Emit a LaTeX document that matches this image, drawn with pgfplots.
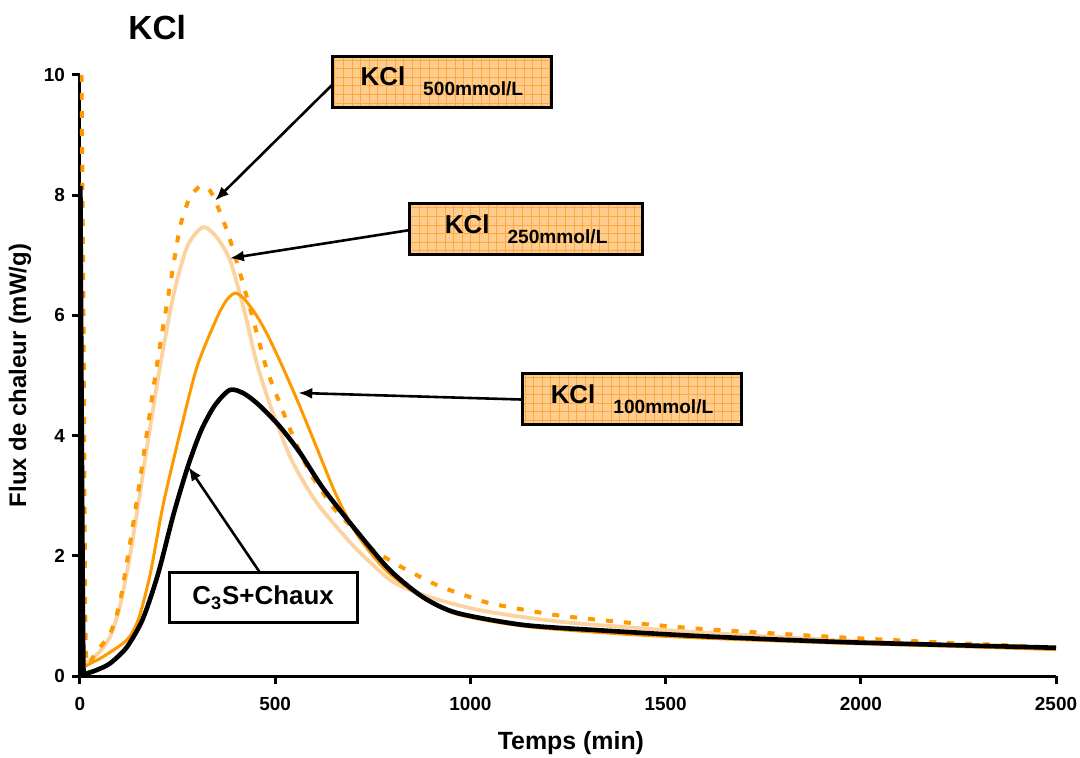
\documentclass[border=0pt]{standalone}
\usepackage{pgfplots}
\pgfplotsset{compat=1.18}
\usepackage{fontspec}
\setmainfont{Liberation Sans}
\usetikzlibrary{arrows.meta}
\definecolor{korange}{RGB}{255,153,0}
\definecolor{klight}{RGB}{251,210,160}
\definecolor{boxfill}{RGB}{255,204,140}
\definecolor{boxgrid}{RGB}{250,170,70}
\begin{document}
\begin{tikzpicture}[
  kbox/.style={draw=black, line width=1.5bp, fill=boxfill, inner sep=0pt,
    minimum height=25.5bp, font=\bfseries,
    path picture={\draw[boxgrid, line width=0.35bp, step=4.3bp] (path picture bounding box.south west) grid (path picture bounding box.north east);}},
  karrow/.style={line width=1.3bp, -{Latex[length=7bp,width=5.5bp]}}
]
\begin{axis}[
  name=ax,
  scale only axis,
  clip mode=individual,
  width=488bp, height=300.5bp,
  xmin=0, xmax=2500, ymin=0, ymax=10,
  axis x line*=bottom, axis y line*=left,
  axis line style={line width=1.5bp},
  xtick={0,500,...,2500}, ytick={0,2,...,10},
  tick align=outside, major tick length=4bp,
  major tick style={line width=1.5bp, black},
  /pgf/number format/assume math mode=true,
  /pgf/number format/1000 sep={},
  ticklabel style={font=\bfseries\fontsize{9.5}{11}\selectfont},
  xticklabel style={yshift=-3bp},
  xlabel={Temps (min)}, ylabel={Flux de chaleur (mW/g)},
  xlabel style={font=\bfseries\fontsize{12.5}{14}\selectfont, at={(axis description cs:0.503,-0.1115)}, anchor=center},
  ylabel style={font=\bfseries\fontsize{12}{14}\selectfont, at={(axis description cs:-0.0615,0.5)}, anchor=center},
]
% KCl 250 mmol/L (light hatched)
\addplot[klight, line width=1.9bp, smooth, tension=0.45] coordinates {
(12,0.2) (26,0.27) (50,0.4) (77,0.65) (102,1.15) (128,2.0) (150,2.9) (175,3.95) (205,5.15) (240,6.35) (275,7.15) (315,7.47) (350,7.3) (384,6.92) (420,6.1) (453,5.2) (490,4.45) (538,3.65) (580,3.15) (622,2.75) (710,2.1) (794,1.6) (850,1.42) (922,1.26) (1020,1.1) (1135,0.98) (1250,0.89) (1383,0.82) (1600,0.72) (1929,0.6) (2200,0.52) (2500,0.45)
};
% KCl 500 mmol/L (dashed)
\addplot[korange, line width=2bp, dash pattern=on 3.5bp off 5.5bp, smooth, tension=0.3] coordinates {
(3,10.6) (9,6) (15,0.4) (40,0.4) (77,0.7) (102,1.21) (128,2.2) (146,2.93) (175,4.2) (200,5.3) (233,6.59) (256,7.47) (280,7.95) (307,8.15) (330,8.1) (346,7.92) (380,7.35) (410,6.7) (445,5.9) (479,5.09) (546,3.98) (589,3.38) (648,2.81) (700,2.45) (750,2.1) (827,1.8) (922,1.49) (1050,1.21) (1222,1.01) (1383,0.9) (1600,0.78) (1929,0.65) (2200,0.56) (2413,0.5) (2500,0.47)
};
% KCl 100 mmol/L (solid orange)
\addplot[korange, line width=1.5bp, smooth, tension=0.45] coordinates {
(12,0.15) (18,0.18) (59,0.32) (120,0.6) (150,0.95) (180,1.7) (213,2.85) (256,4.04) (300,5.15) (350,5.95) (375,6.25) (397,6.37) (420,6.28) (450,6.02) (480,5.68) (515,5.2) (559,4.55) (605,3.82) (657,3.0) (710,2.35) (785,1.75) (879,1.3) (965,1.03) (1135,0.83) (1383,0.7) (1600,0.63) (1929,0.55) (2200,0.5) (2500,0.44)
};
% C3S + Chaux (black)
\addplot[black, line width=2.3bp, smooth, tension=0.45] coordinates {
(1,8.15) (9,0.05) (20,0.05) (43,0.1) (77,0.21) (120,0.48) (161,0.95) (200,1.7) (240,2.7) (277,3.5) (310,4.08) (345,4.5) (384,4.76) (420,4.7) (460,4.5) (512,4.15) (563,3.72) (623,3.12) (710,2.4) (794,1.76) (879,1.31) (965,1.05) (1135,0.85) (1332,0.76) (1600,0.66) (1929,0.57) (2200,0.52) (2500,0.47)
};
% labels
\node[kbox, minimum width=109.5bp] (b500) at (axis cs:927,9.89) {\fontsize{13}{15}\selectfont KCl\hspace{9bp}\raisebox{-5bp}{\fontsize{9.6}{11}\selectfont 500mmol/L}};
\node[kbox, minimum width=116.5bp] (b250) at (axis cs:1143,7.43) {\fontsize{13}{15}\selectfont KCl\hspace{9bp}\raisebox{-5bp}{\fontsize{9.6}{11}\selectfont 250mmol/L}};
\node[kbox, minimum width=109.5bp] (b100) at (axis cs:1414,4.61) {\fontsize{13}{15}\selectfont KCl\hspace{9bp}\raisebox{-5bp}{\fontsize{9.6}{11}\selectfont 100mmol/L}};
\node[draw=black, line width=1.5bp, fill=white, inner sep=0pt, minimum width=94bp, minimum height=25bp, font=\bfseries\fontsize{13}{15}\selectfont] (bc3s) at (axis cs:469,1.306) {C\textsubscript{3}S+Chaux};
\draw[karrow] (axis cs:645,9.83) -- (axis cs:346,7.91);
\draw[karrow] (axis cs:845,7.42) -- (axis cs:384,6.95);
\draw[karrow] (axis cs:1133,4.60) -- (axis cs:559,4.71);
\draw[karrow] (axis cs:461,1.72) -- (axis cs:277.5,3.48);
\end{axis}
\node[anchor=base west, inner sep=0pt, font=\bfseries\fontsize{16.8}{18}\selectfont] at ([xshift=24bp,yshift=17.5bp]ax.north west) {KCl};
\pgfresetboundingbox
\path ([xshift=-40bp,yshift=-41bp]ax.south west) rectangle ([xshift=500bp,yshift=338bp]ax.south west);
\end{tikzpicture}
\end{document}
